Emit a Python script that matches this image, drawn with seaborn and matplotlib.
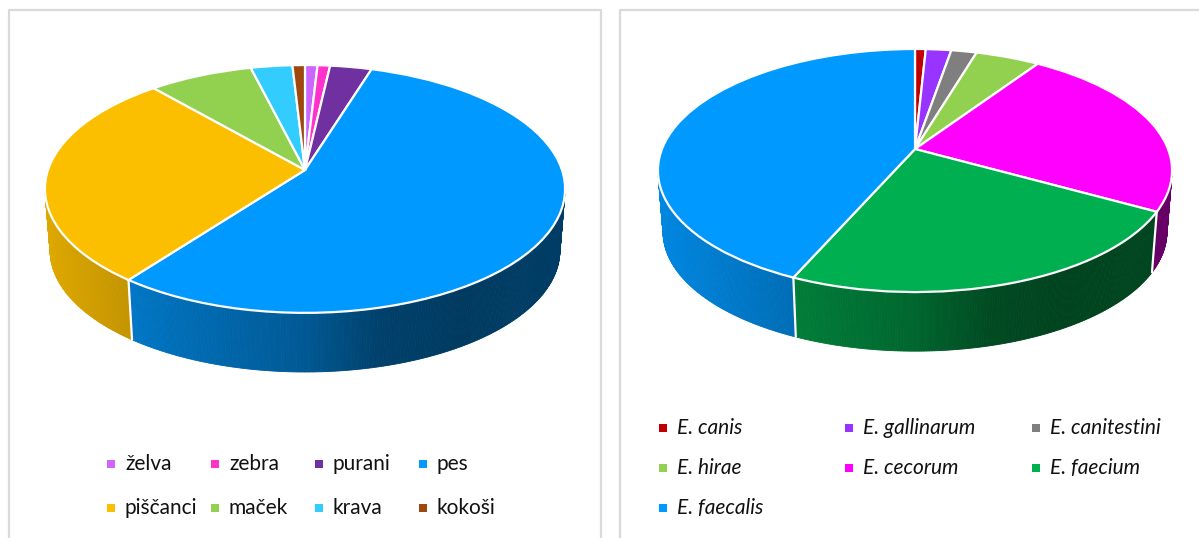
import numpy as np
import matplotlib
matplotlib.use('Agg')
import matplotlib.pyplot as plt
from matplotlib.transforms import Transform
import seaborn as sns

# values (percent)
hosts = ['želva', 'zebra', 'purani', 'pes', 'piščanci', 'maček', 'krava', 'kokoši']
host_values = [0.9, 0.9, 3.0, 55.5, 28.3, 7.5, 3.0, 0.9]
host_colors = ['#cc66ff', '#ff33cc', '#7030a0', '#0099ff', '#fcbf00', '#92d050', '#33ccff', '#9e480e']

species = ['E. canis', 'E. gallinarum', 'E. canitestini', 'E. hirae', 'E. cecorum', 'E. faecium', 'E. faecalis']
species_values = [0.8, 1.9, 1.9, 4.8, 23.7, 23.5, 43.4]
species_colors = ['#c00000', '#9933ff', '#7f7f7f', '#92d050', '#ff00ff', '#00b050', '#0099ff']

sns.set_theme(style='white')
plt.rcParams['font.family'] = ['Lato', 'DejaVu Sans']


# perspective of the unit circle onto the page, result in pixels
class Tilt(Transform):
    input_dims = 2
    output_dims = 2

    def __init__(self, cx, cy, s, b, k):
        super().__init__()
        self.cx, self.cy, self.s, self.b, self.k = cx, cy, s, b, k

    def transform_non_affine(self, values):
        values = np.asarray(values)
        w = 1 + self.k * values[:, 1]
        return np.column_stack([self.cx + self.s * values[:, 0] / w,
                                self.cy - self.b * values[:, 1] / w])


def wall_shade(x, cx, s):
    u = (x - cx) / s
    return np.interp(u, [-1, -0.5, 0, 0.3, 0.6, 1], [0.88, 0.72, 0.58, 0.42, 0.38, 0.40])


def draw_3d_pie(ax, values, colors, cx, cy, s, b, k, depth=62, shrink=0.98):
    tilt = Tilt(cx, cy, s, b, k)
    wedges, _ = ax.pie(values, colors=sns.color_palette(colors), startangle=90, counterclock=False,
                       wedgeprops=dict(edgecolor='white', linewidth=1.6))
    for w in wedges:
        w.set_transform(tilt + ax.transData)
        w.set_clip_on(False)
        w.set_zorder(5)

    def rim(t):
        pts = tilt.transform_non_affine(np.column_stack([np.cos(t), np.sin(t)]))
        low = np.column_stack([cx + shrink * (pts[:, 0] - cx), cy + shrink * (pts[:, 1] - cy) + depth])
        return pts, low

    # side wall, narrow strips so the shading runs across it
    for w, col in zip(wedges, colors):
        base = np.array(matplotlib.colors.to_rgb(col))
        t = np.radians(np.arange(w.theta1, w.theta2 + 0.5, 0.5))
        t = np.append(t[t < np.radians(w.theta2)], np.radians(w.theta2))
        top, low = rim(t)
        for i in range(len(t) - 1):
            if np.sin((t[i] + t[i + 1]) / 2) > -k + 0.01:
                continue
            xs = [top[i, 0], top[i + 1, 0], low[i + 1, 0], low[i, 0]]
            ys = [top[i, 1], top[i + 1, 1], low[i + 1, 1], low[i, 1]]
            c = base * wall_shade(np.mean(xs), cx, s)
            ax.fill(xs, ys, color=c, lw=0.6, zorder=2)
        # white seam between slices
        if np.sin(t[0]) < -k:
            ax.plot([top[0, 0], low[0, 0]], [top[0, 1], low[0, 1]], color='white', lw=1.6, zorder=3)
    return wedges


def draw_legend(ax, labels, colors, xs, ys, style='normal'):
    for i, (lab, col) in enumerate(zip(labels, colors)):
        x = xs[i % len(xs)]
        y = ys[i // len(xs)]
        ax.scatter([x], [y], marker='s', s=32, color=col, linewidths=0, zorder=6)
        ax.text(x + 14, y, lab, fontsize=15, style=style, color='#111111', va='center', ha='left')


fig = plt.figure(figsize=(11.99, 5.38), dpi=100)
ax = fig.add_axes([0, 0, 1, 1])

draw_3d_pie(ax, host_values, host_colors, cx=305, cy=170, s=257, b=121, k=0.153)
draw_3d_pie(ax, species_values, species_colors, cx=915, cy=149, s=253, b=117.7, k=0.177)

draw_legend(ax, hosts, host_colors, [111, 215, 319, 423], [464, 508])
draw_legend(ax, species, species_colors, [663, 849, 1036], [428, 468, 508], style='italic')

# panel frames
frame = '#d9d9d9'
ax.plot([9, 9, 601, 601], [538, 10, 10, 538], color=frame, lw=1.6, zorder=1)
ax.plot([620, 620, 1199], [538, 10, 10], color=frame, lw=1.6, zorder=1)

ax.set_aspect('auto')
ax.set_xlim(0, 1199)
ax.set_ylim(538, 0)
ax.axis('off')

fig.savefig('out.png', dpi=100)
plt.close(fig)
